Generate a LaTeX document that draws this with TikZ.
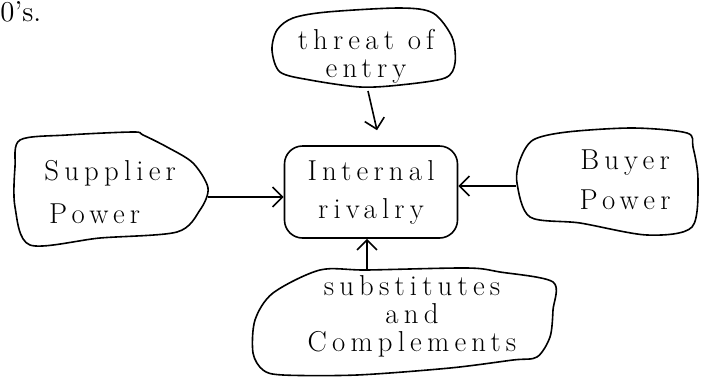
\documentclass[tikz,border=0pt]{standalone}
\usepackage{fontspec}
\usepackage{tikz}
\usetikzlibrary{arrows.meta,positioning}

\newfontfamily\handfont[LetterSpace=18]{Latin Modern Roman}

\tikzset{
  blob/.style={line width=0.8pt},
  hand/.style={font=\handfont\Large, align=center, inner sep=0pt},
  arr/.style={line width=0.8pt, -{Straight Barb[length=5pt,width=10pt]}},
}

\begin{document}
\begin{tikzpicture}[x=0.5pt,y=-0.5pt]
      \useasboundingbox (0,0) rectangle (707,376);

      % tail of the running text above
      \node[anchor=base west, inner sep=0pt, font=\Large] (tail) at (0,21) {0's.};

      % Threat of entry
      \draw[blob] plot[smooth cycle, tension=0.5] coordinates {
        (293,18) (327,12) (400,8) (433,13) (452,37) (455,63) (445,78)
        (400,85) (360,87) (310,80) (280,72) (272,50) (277,30)};
      \node[hand] (threat) at (366,56) {threat of\\[-4pt]entry};
      \coordinate (thrS) at (368,91);

      % Internal rivalry
      \node[hand, draw, line width=0.8pt, rounded corners=9pt,
            minimum width=86.5pt, minimum height=46pt] (rivalry) at (371,192)
            {Internal\\[1pt]rivalry};

      % Supplier power
      \draw[blob] plot[smooth cycle, tension=0.5] coordinates {
        (20,140) (67,135) (133,132) (143,135) (167,147) (193,163) (208,188)
        (200,210) (177,232) (100,238) (30,245) (15,207) (15,167)};
      \node[hand, align=left, anchor=west] (supplier) at (44,192) {Supplier\\[3.5pt]\,Power};
      \coordinate (supE) at (208,197);

      % Buyer power
      \draw[blob] plot[smooth cycle, tension=0.5] coordinates {
        (533,140) (567,132) (633,128) (687,133) (693,147) (698,180) (692,227)
        (647,235) (580,223) (530,217) (517,183) (520,160)};
      \node[hand] (buyer) at (625,180) {Buyer\\[2pt]Power};
      \coordinate (buyW) at (516,186);

      % Substitutes and complements
      \draw[blob] plot[smooth cycle, tension=0.5] coordinates {
        (320,270) (367,270) (467,268) (500,272) (553,282) (553,310) (550,337)
        (537,357) (513,360) (450,368) (357,375) (283,375) (263,370) (253,353)
        (255,320) (273,293)};
      \node[hand] (subst) at (412,316) {substitutes\\[-4pt]and\\[-4pt]Complements};
      \coordinate (subN) at (367,270);

      % forces pointing at the rivalry box
      \draw[arr] (thrS) -- ([xshift=3pt,yshift=7.5pt]rivalry.north);
      \draw[arr] (supE) -- (supE -| rivalry.west);
      \draw[arr] (buyW) -- (buyW -| rivalry.east);
      \draw[arr] (subN) -- (subN |- rivalry.south);
\end{tikzpicture}
\end{document}
